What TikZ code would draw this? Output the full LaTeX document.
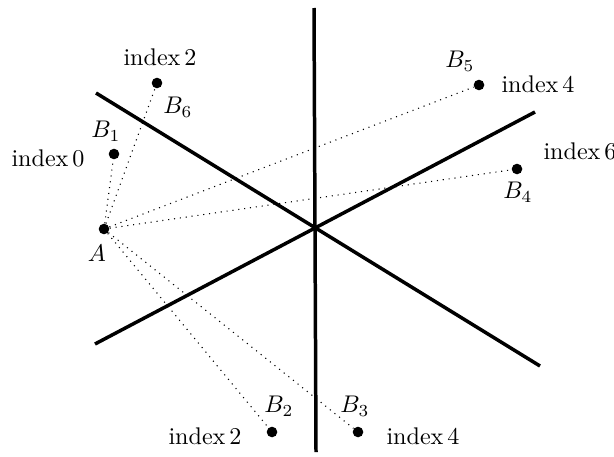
\documentclass[tikz,border=0pt]{standalone}
\begin{document}
\begin{tikzpicture}[x=0.415pt,y=-0.415pt,
  pt/.style={circle,fill=black,inner sep=0pt,minimum size=4.4pt},
  lbl/.style={inner sep=0pt},
  axis/.style={line width=1.45pt},
  conn/.style={dotted,line width=0.45pt}]
\useasboundingbox (0,0) rectangle (614,456);
% main lines
\coordinate (v1) at (314,8);
\coordinate (v2) at (316,452);
\coordinate (l1a) at (96,93);
\coordinate (l1b) at (540,366);
\coordinate (l2a) at (95,344);
\coordinate (l2b) at (535,112);
\draw[axis] (v1) -- (v2);
\draw[axis] (l1a) -- (l1b);
\draw[axis] (l2a) -- (l2b);
% points
\node[pt] (A) at (104,229) {};
\node[pt] (B1) at (114,154) {};
\node[pt] (B6) at (157,83) {};
\node[pt] (B5) at (479,85) {};
\node[pt] (B4) at (517,169) {};
\node[pt] (B2) at (272,432) {};
\node[pt] (B3) at (358,432) {};
% connectors
\foreach \b in {B1,B2,B3,B4,B5,B6} \draw[conn] (A) -- (\b);
% labels
\node[lbl] (lA) at (97,253) {$A$};
\node[lbl] (lB1) at (106,131) {$B_1$};
\node[lbl] (lB6) at (178,107) {$B_6$};
\node[lbl] (lB5) at (460,61) {$B_5$};
\node[lbl] (lB4) at (518,192) {$B_4$};
\node[lbl] (lB2) at (279,406) {$B_2$};
\node[lbl] (lB3) at (355,406) {$B_3$};
\node[lbl] (i0) at (48,158) {index\,0};
\node[lbl] (i2a) at (160,57) {index\,2};
\node[lbl] (i4a) at (538,84) {index\,4};
\node[lbl] (i6) at (580,151) {index\,6};
\node[lbl] (i2b) at (205,436) {index\,2};
\node[lbl] (i4b) at (423,436) {index\,4};
\end{tikzpicture}
\end{document}
